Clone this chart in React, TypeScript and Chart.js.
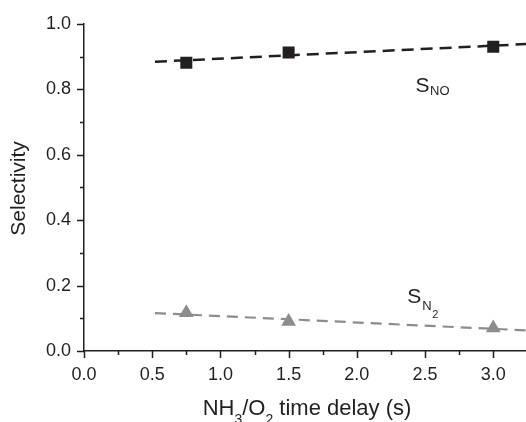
import React, { useEffect, useRef } from "react";
import { Chart, registerables } from "chart.js";

Chart.register(...registerables);

// ---- data ----
const delays = [0.75, 1.5, 3.0];
const selNO = [0.881, 0.912, 0.93];
const selN2 = [0.117, 0.09, 0.07];
const fitDelays = [0.52, 3.24];
const fitNO = [0.884, 0.938];
const fitN2 = [0.116, 0.063];
const xMajorTicks = [0, 0.5, 1.0, 1.5, 2.0, 2.5, 3.0];
const xMinorTicks = [0.25, 0.75, 1.25, 1.75, 2.25, 2.75];
const yMajorTicks = [0, 0.2, 0.4, 0.6, 0.8, 1.0];
const yMinorTicks = [0.1, 0.3, 0.5, 0.7, 0.9];

const FONT = "'Liberation Sans', Arial, Helvetica, sans-serif";
const INK = "#231f20";
const GRAY = "#8c8c8c";

const decorPlugin = {
  id: "decor",
  afterDraw(chart: any) {
    const { ctx, scales, chartArea } = chart;
    const xs = scales.x;
    const ys = scales.y;
    ctx.save();
    // tick marks
    ctx.strokeStyle = INK;
    ctx.lineWidth = 1.5;
    ctx.beginPath();
    const bottom = chartArea.bottom;
    const left = chartArea.left;
    xMajorTicks.forEach((v) => {
      const px = Math.round(xs.getPixelForValue(v)) + 0.5;
      ctx.moveTo(px, bottom);
      ctx.lineTo(px, bottom + 7);
    });
    xMinorTicks.forEach((v) => {
      const px = Math.round(xs.getPixelForValue(v)) + 0.5;
      ctx.moveTo(px, bottom);
      ctx.lineTo(px, bottom + 4);
    });
    yMajorTicks.forEach((v) => {
      const py = Math.round(ys.getPixelForValue(v)) + 0.5;
      ctx.moveTo(left, py);
      ctx.lineTo(left - 7, py);
    });
    yMinorTicks.forEach((v) => {
      const py = Math.round(ys.getPixelForValue(v)) + 0.5;
      ctx.moveTo(left, py);
      ctx.lineTo(left - 4, py);
    });
    ctx.stroke();

    ctx.fillStyle = INK;
    ctx.textBaseline = "alphabetic";

    // x tick labels
    ctx.textAlign = "center";
    ctx.font = `18px ${FONT}`;
    xMajorTicks.forEach((v) => {
      ctx.fillText(v.toFixed(1), xs.getPixelForValue(v), bottom + 29);
    });
    ctx.textAlign = "left";

    // y title
    ctx.save();
    ctx.translate(25, (chartArea.top + chartArea.bottom) / 2 + 1);
    ctx.rotate(-Math.PI / 2);
    ctx.textAlign = "center";
    ctx.font = `21px ${FONT}`;
    ctx.fillText("Selectivity", 0, 0);
    ctx.restore();

    // x title with subscripts
    const parts: [string, number, number][] = [
      ["NH", 22, 0],
      ["3", 14, 9],
      ["/O", 22, 0],
      ["2", 14, 9],
      [" time delay (s)", 22, 0],
    ];
    let total = 0;
    parts.forEach(([t, s]) => {
      ctx.font = `${s}px ${FONT}`;
      total += ctx.measureText(t).width;
    });
    let cx = (chartArea.left + chartArea.right) / 2 + 2 - total / 2;
    const by = 415;
    parts.forEach(([t, s, dy]) => {
      ctx.font = `${s}px ${FONT}`;
      ctx.fillText(t, cx, by + dy);
      cx += ctx.measureText(t).width;
    });

    // series labels
    let lx = xs.getPixelForValue(2.43);
    let ly = ys.getPixelForValue(0.793);
    ctx.font = `21px ${FONT}`;
    ctx.fillText("S", lx, ly);
    lx += ctx.measureText("S").width;
    ctx.font = `13px ${FONT}`;
    ctx.fillText("NO", lx + 0.5, ly + 3);

    lx = xs.getPixelForValue(2.37);
    ly = ys.getPixelForValue(0.146);
    ctx.font = `21px ${FONT}`;
    ctx.fillText("S", lx, ly);
    lx += ctx.measureText("S").width;
    ctx.font = `13px ${FONT}`;
    ctx.fillText("N", lx + 1, ly + 7);
    lx += ctx.measureText("N").width + 1;
    ctx.font = `11px ${FONT}`;
    ctx.fillText("2", lx + 0.5, ly + 15);

    ctx.restore();
  },
};

export default function App() {
  const ref = useRef<HTMLCanvasElement>(null);

  useEffect(() => {
    document.body.style.margin = "0";
    if (!ref.current) return;
    const chart = new Chart(ref.current, {
      type: "scatter",
      data: {
        datasets: [
          {
            label: "S_NO",
            data: delays.map((x, i) => ({ x, y: selNO[i] })),
            pointStyle: "rect",
            pointRadius: 8.5,
            backgroundColor: INK,
            borderColor: INK,
            borderWidth: 0,
            showLine: false,
            order: 0,
          },
          {
            label: "S_N2",
            data: delays.map((x, i) => ({ x, y: selN2[i] })),
            pointStyle: "triangle",
            pointRadius: 8.5,
            backgroundColor: GRAY,
            borderColor: GRAY,
            borderWidth: 0,
            showLine: false,
            order: 0,
          },
          {
            label: "fit NO",
            data: fitDelays.map((x, i) => ({ x, y: fitNO[i] })),
            showLine: true,
            pointRadius: 0,
            borderColor: INK,
            borderWidth: 2.5,
            borderDash: [12, 7],
            order: 1,
          },
          {
            label: "fit N2",
            data: fitDelays.map((x, i) => ({ x, y: fitN2[i] })),
            showLine: true,
            pointRadius: 0,
            borderColor: GRAY,
            borderWidth: 2.2,
            borderDash: [11, 7],
            order: 1,
          },
        ],
      },
      options: {
        responsive: false,
        animation: false,
        layout: { autoPadding: false, padding: { top: 22, right: 0, left: 0, bottom: 0 } },
        plugins: {
          legend: { display: false },
          tooltip: { enabled: false },
        },
        scales: {
          x: {
            type: "linear",
            min: 0,
            max: 3.24,
            afterFit: (s: any) => {
              s.height = 71;
            },
            afterBuildTicks: (s: any) => {
              s.ticks = xMajorTicks.map((v) => ({ value: v }));
            },
            grid: { display: true, drawOnChartArea: false, drawTicks: false },
            border: { display: true, color: INK, width: 1.5 },
            ticks: { display: false },
          },
          y: {
            type: "linear",
            min: 0,
            max: 1.0,
            afterFit: (s: any) => {
              s.width = 84;
            },
            afterBuildTicks: (s: any) => {
              s.ticks = yMajorTicks.map((v) => ({ value: v }));
            },
            grid: { display: true, drawOnChartArea: false, drawTicks: false },
            border: { display: true, color: INK, width: 1.5 },
            ticks: {
              padding: 13,
              color: INK,
              font: { family: FONT, size: 18 },
              callback: (v: any) => Number(v).toFixed(1),
            },
          },
        },
      },
      plugins: [decorPlugin],
    });
    return () => chart.destroy();
  }, []);

  return (
    <div style={{ width: 526, height: 422 }}>
      <canvas ref={ref} width={526} height={422} />
    </div>
  );
}
